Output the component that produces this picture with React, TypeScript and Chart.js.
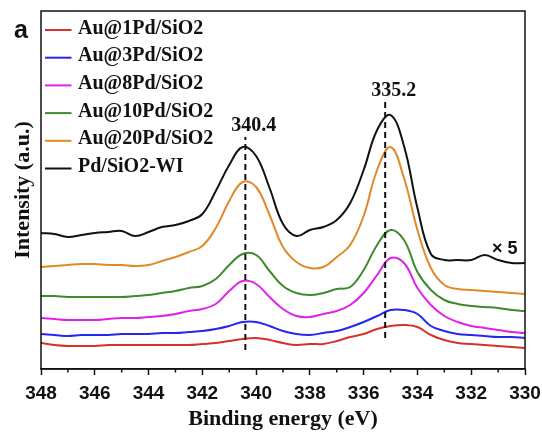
import React, { useEffect, useRef } from "react";
import { Chart, registerables } from "chart.js";

Chart.register(...registerables);

// Binding energy samples (eV)
const energies = [
  348, 347.5, 347, 346.5, 346, 345.5, 345, 344.5, 344, 343.5, 343, 342.5, 342,
  341.5, 341, 340.5, 340, 339.5, 339, 338.5, 338, 337.5, 337, 336.5, 336, 335.5,
  335, 334.5, 334, 333.5, 333, 332.5, 332, 331.5, 331, 330.5, 330,
];

const seriesNames = [
  "Au@1Pd/SiO2",
  "Au@3Pd/SiO2",
  "Au@8Pd/SiO2",
  "Au@10Pd/SiO2",
  "Au@20Pd/SiO2",
  "Pd/SiO2-WI",
];
const seriesColors = ["#d8302e", "#2626ee", "#e022e6", "#3e8a2c", "#e0892a", "#111111"];

// Intensities (a.u., vertically offset as in the figure)
const au1Pd = [26, 24, 23, 23, 23, 24, 24, 24, 24, 24, 24, 24, 25, 26, 28, 30, 31, 29, 26, 24, 25, 25, 28, 32, 35, 40, 43, 44, 42, 34, 29, 26, 25, 24, 23, 22, 21];
const au3Pd = [35, 34, 33, 34, 34, 34, 35, 35, 35, 36, 36, 37, 38, 40, 43, 47, 47, 43, 38, 35, 34, 36, 38, 42, 47, 53, 59, 59, 55, 43, 38, 35, 34, 33, 32, 32, 31];
const au8Pd = [51, 50, 49, 49, 49, 50, 51, 51, 52, 53, 55, 58, 60, 65, 78, 88, 85, 72, 60, 53, 52, 55, 58, 64, 76, 94, 111, 106, 81, 64, 53, 47, 43, 41, 39, 37, 36];
const au10Pd = [73, 73, 72, 72, 72, 72, 72, 73, 74, 76, 78, 81, 83, 90, 104, 115, 114, 98, 83, 76, 74, 76, 80, 82, 99, 124, 139, 129, 97, 79, 69, 65, 63, 62, 61, 59, 58];
const au20Pd = [102, 103, 104, 105, 105, 104, 104, 103, 104, 108, 112, 117, 123, 141, 168, 187, 182, 154, 122, 107, 101, 102, 112, 124, 153, 199, 222, 191, 139, 101, 84, 80, 79, 78, 77, 76, 75];
const pdWI = [136, 135, 132, 134, 136, 137, 138, 133, 137, 142, 144, 148, 155, 178, 204, 222, 213, 181, 145, 133, 139, 142, 149, 166, 199, 239, 254, 223, 161, 115, 109, 109, 109, 114, 109, 106, 106];

const xTickValues = [348, 346, 344, 342, 340, 338, 336, 334, 332, 330];
const xMinorTicks = [347, 345, 343, 341, 339, 337, 335, 333, 331];

// Peak markers
const peakEnergies = [340.4, 335.2];
const peakLabels = ["340.4", "335.2"];
const dashLow = [19, 31];
const dashHigh = [232, 267];

const scaleNote = "× 5";
const scaleNoteAt = [330.75, 121];
const panelLabel = "a";
const xTitle = "Binding energy (eV)";
const yTitle = "Intensity (a.u.)";

const SERIF = "'Liberation Serif', 'Times New Roman', serif";
const SANS = "'Liberation Sans', Arial, sans-serif";

export default function App() {
  const ref = useRef<HTMLCanvasElement | null>(null);

  useEffect(() => {
    const canvas = ref.current;
    if (!canvas) return;
    const allSeries = [au1Pd, au3Pd, au8Pd, au10Pd, au20Pd, pdWI];

    const lineSets: any[] = allSeries.map((vals, i) => ({
      label: seriesNames[i],
      data: energies.map((e, k) => ({ x: e, y: vals[k] })),
      borderColor: seriesColors[i],
      backgroundColor: seriesColors[i],
      borderWidth: 2,
      pointRadius: 0,
      tension: 0.4,
      fill: false,
      order: 1,
    }));

    const dashSets: any[] = peakEnergies.map((e, i) => ({
      label: "peak " + peakLabels[i],
      data: [
        { x: e, y: dashLow[i] },
        { x: e, y: dashHigh[i] },
      ],
      borderColor: "#111",
      borderWidth: 2,
      borderDash: [6, 4],
      pointRadius: 0,
      fill: false,
      order: 0,
    }));

    const overlay = {
      id: "overlay",
      afterDraw(chart: any) {
        const ctx = chart.ctx as CanvasRenderingContext2D;
        const { left, right, top, bottom } = chart.chartArea;
        const xs = chart.scales.x;
        const ys = chart.scales.y;
        ctx.save();
        // frame
        ctx.strokeStyle = "#111";
        ctx.lineWidth = 1.5;
        ctx.strokeRect(left, top, right - left, bottom - top);
        // minor ticks
        xMinorTicks.forEach((v) => {
          const px = xs.getPixelForValue(v);
          ctx.beginPath();
          ctx.moveTo(px, bottom);
          ctx.lineTo(px, bottom + 3.5);
          ctx.stroke();
        });
        // legend
        ctx.textAlign = "left";
        ctx.textBaseline = "middle";
        ctx.font = `bold 20px ${SERIF}`;
        seriesNames.forEach((name, i) => {
          const y = 30 + i * 27.7;
          ctx.strokeStyle = seriesColors[i];
          ctx.lineWidth = 2;
          ctx.beginPath();
          ctx.moveTo(45, y);
          ctx.lineTo(71.5, y);
          ctx.stroke();
          ctx.fillStyle = "#111";
          ctx.fillText(name, 78, y - 1.5);
        });
        // peak labels
        ctx.textAlign = "center";
        ctx.font = `bold 20px ${SERIF}`;
        peakEnergies.forEach((e, i) => {
          const px = xs.getPixelForValue(e) + 8.5;
          const py = ys.getPixelForValue(dashHigh[i]) - 11;
          ctx.fillText(peakLabels[i], px, py);
        });
        // scale note
        ctx.font = `bold 18px ${SANS}`;
        ctx.fillText(scaleNote, xs.getPixelForValue(scaleNoteAt[0]), ys.getPixelForValue(scaleNoteAt[1]) + 1);
        // panel label
        ctx.font = `bold 25px ${SANS}`;
        ctx.fillText(panelLabel, 21, 31.5);
        ctx.restore();
      },
    };

    const chart = new Chart(canvas, {
      type: "line",
      data: { datasets: [...lineSets, ...dashSets] },
      options: {
        animation: false,
        responsive: false,
        maintainAspectRatio: false,
        events: [],
        layout: { padding: { top: 11, right: 17, left: 0, bottom: 0 } },
        plugins: {
          legend: { display: false },
          tooltip: { enabled: false },
        },
        scales: {
          x: {
            type: "linear",
            reverse: true,
            min: 330,
            max: 348,
            afterBuildTicks: (scale: any) => {
              scale.ticks = xTickValues.map((v) => ({ value: v }));
            },
            afterFit: (scale: any) => {
              scale.height = 65;
              scale.paddingLeft = 0;
              scale.paddingRight = 0;
            },
            grid: {
              display: true,
              drawOnChartArea: false,
              drawTicks: true,
              tickLength: 6,
              tickColor: "#111",
              tickWidth: 1.5,
            },
            border: { display: true, color: "#111", width: 1.5 },
            ticks: {
              autoSkip: false,
              maxRotation: 0,
              minRotation: 0,
              padding: 7,
              color: "#111",
              font: { family: SANS, weight: "bold", size: 19 },
              callback: (v: any) => String(v),
            },
            title: {
              display: true,
              text: xTitle,
              color: "#111",
              font: { family: SERIF, weight: "bold", size: 22 },
              padding: { top: 0, bottom: 1 },
            },
          },
          y: {
            type: "linear",
            min: 0,
            max: 358,
            afterFit: (scale: any) => {
              scale.width = 41;
              scale.paddingTop = 0;
              scale.paddingBottom = 0;
            },
            grid: { display: false },
            border: { display: false },
            ticks: { display: false },
            title: {
              display: true,
              text: yTitle,
              color: "#111",
              font: { family: SERIF, weight: "bold", size: 22 },
              padding: { top: 10, bottom: 0 },
            },
          },
        },
      } as any,
      plugins: [overlay],
    });

    return () => chart.destroy();
  }, []);

  return (
    <div style={{ position: "absolute", left: 0, top: 0, width: 542, height: 434, background: "#fff" }}>
      <canvas ref={ref} width={542} height={434} style={{ display: "block", width: 542, height: 434 }} />
    </div>
  );
}
